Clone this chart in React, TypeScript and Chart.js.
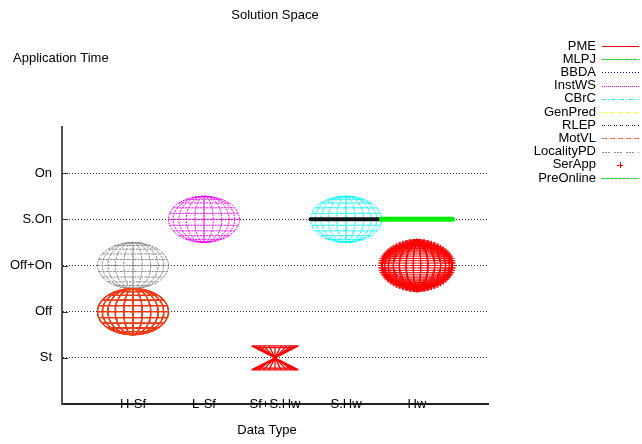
import React, { useEffect, useRef } from 'react';
import { Chart, registerables } from 'chart.js';

Chart.register(...registerables);

// ---- axis data ----
const yTickValues = [1, 2, 3, 4, 5];
const yTickLabels = ['St', 'Off', 'Off+On', 'S.On', 'On'];
const xTickValues = [1, 2, 3, 4, 5];
const xTickLabels = ['H-Sf', 'L-Sf', 'Sf+S.Hw', 'S.Hw', 'Hw'];

// ---- series (legend order) ----
const seriesNames = ['PME', 'MLPJ', 'BBDA', 'InstWS', 'CBrC', 'GenPred', 'RLEP', 'MotVL', 'LocalityPD', 'SerApp', 'PreOnline'];

// ---- shapes: which series, kind, centre and half-extent (data units) ----
const shapeSeries = ['PME', 'PME', 'MLPJ', 'BBDA', 'GenPred', 'MotVL', 'LocalityPD', 'InstWS', 'CBrC', 'RLEP', 'PreOnline', 'SerApp'];
const shapeKind = ['sphere', 'bowtie', 'sphere', 'sphere', 'sphere', 'sphere', 'sphere', 'sphere', 'sphere', 'bar', 'bar', 'sphere'];
const shapeX = [1, 3, 1, 1, 1, 1, 1, 2, 4, 4, 5, 5];
const shapeY = [2, 1, 2, 2, 2, 2, 3, 4, 4, 4, 4, 3];
const shapeRX = [0.5, 0.33, 0.5, 0.5, 0.5, 0.5, 0.5, 0.5, 0.5, 0.5, 0.5, 0.5];
const shapeRY = [0.5, 0.26, 0.5, 0.5, 0.5, 0.5, 0.5, 0.5, 0.5, 0, 0, 0.5];

// ---- styles ----
const seriesColors: Record<string, string> = {
  PME: '#ff0000', MLPJ: '#00e000', BBDA: '#0000ff', InstWS: '#ff00ff', CBrC: '#00ffff',
  GenPred: '#ffff00', RLEP: '#111111', MotVL: '#ff4a10', LocalityPD: '#8c8c8c', SerApp: '#ff0000', PreOnline: '#00ee00',
};
const seriesDash: Record<string, number[]> = {
  PME: [], MLPJ: [3, 1], BBDA: [1, 2], InstWS: [2, 1], CBrC: [5, 1, 2, 1], GenPred: [3, 2, 1, 2],
  RLEP: [1, 1, 1, 3], MotVL: [5, 1], LocalityPD: [3, 1, 2, 1], SerApp: [], PreOnline: [3, 1],
};
const legendDash: Record<string, number[]> = {
  PME: [], MLPJ: [3, 1], BBDA: [1, 2], InstWS: [1, 1], CBrC: [4, 2, 1, 2], GenPred: [3, 2, 1, 2],
  RLEP: [1, 1, 1, 3], MotVL: [2, 1, 2, 3], LocalityPD: [2, 1, 2, 1, 2, 4], SerApp: [], PreOnline: [3, 1],
};
const drawStack = ['LocalityPD', 'GenPred', 'MLPJ', 'BBDA', 'PME', 'MotVL', 'InstWS', 'CBrC', 'RLEP', 'PreOnline', 'SerApp'];

const FONT = '"Liberation Sans", Arial, sans-serif';
const D = Math.PI / 180;

type P = { x: number | null; y: number | null };

function sphereLines(cx: number, cy: number, rx: number, ry: number): P[] {
  const pts: P[] = [];
  [0, 1, 2, 3, 4, 6].forEach((k) => {
    const a = Math.sin(k * 15 * D);
    for (let t = 0; t <= 360; t += 6) {
      pts.push({ x: cx + rx * a * Math.cos(t * D), y: cy + ry * Math.sin(t * D) });
    }
    pts.push({ x: null, y: null });
  });
  for (let k = -5; k <= 5; k++) {
    const v = k * 15 * D;
    const y = cy + ry * Math.sin(v);
    const h = rx * Math.cos(v);
    pts.push({ x: cx - h, y }, { x: cx + h, y }, { x: null, y: null });
  }
  return pts;
}

function spherePoints(cx: number, cy: number, rx: number, ry: number): P[] {
  const pts: P[] = [];
  for (let v = -90; v <= 90; v += 6) {
    for (let u = 0; u <= 180; u += 12) {
      pts.push({ x: cx + rx * Math.cos(v * D) * Math.cos(u * D), y: cy + ry * Math.sin(v * D) });
    }
  }
  return pts;
}

function bowtieLines(cx: number, cy: number, rx: number, ry: number): P[] {
  const pts: P[] = [];
  for (let k = -6; k <= 6; k++) {
    const a = Math.sin(k * 15 * D);
    pts.push({ x: cx - rx * a, y: cy - ry }, { x: cx + rx * a, y: cy + ry }, { x: null, y: null });
  }
  [1, 0.85, -0.85, -1].forEach((s) => {
    const h = rx * Math.abs(s);
    pts.push({ x: cx - h, y: cy + ry * s }, { x: cx + h, y: cy + ry * s }, { x: null, y: null });
  });
  return pts;
}

function barLine(cx: number, cy: number, rx: number): P[] {
  return [{ x: cx - rx, y: cy }, { x: cx + rx, y: cy }, { x: null, y: null }];
}

function buildDatasets() {
  return drawStack.map((name, i) => {
    let data: P[] = [];
    shapeSeries.forEach((s, j) => {
      if (s !== name) return;
      const kind = shapeKind[j];
      if (name === 'SerApp') data = data.concat(spherePoints(shapeX[j], shapeY[j], shapeRX[j], shapeRY[j]));
      else if (kind === 'sphere') data = data.concat(sphereLines(shapeX[j], shapeY[j], shapeRX[j], shapeRY[j]));
      else if (kind === 'bowtie') data = data.concat(bowtieLines(shapeX[j], shapeY[j], shapeRX[j], shapeRY[j]));
      else data = data.concat(barLine(shapeX[j], shapeY[j], shapeRX[j]));
    });
    const color = seriesColors[name];
    const isPoints = name === 'SerApp';
    const isBar = name === 'RLEP' || name === 'PreOnline';
    return {
      label: name,
      data,
      showLine: !isPoints,
      spanGaps: false,
      borderColor: color,
      backgroundColor: color,
      borderWidth: isBar ? (name === 'RLEP' ? 4 : 5) : name === 'PME' ? 1.3 : 1,
      borderDash: isBar ? [] : seriesDash[name],
      borderCapStyle: isBar ? 'round' : 'butt',
      pointRadius: isPoints ? 3.5 : 0,
      pointStyle: 'cross',
      pointBorderWidth: 1,
      pointBorderColor: color,
      order: drawStack.length - i,
    } as any;
  });
}

const overlay = {
  id: 'overlay',
  afterDraw(chart: any) {
    const ctx: CanvasRenderingContext2D = chart.ctx;
    const ya = chart.scales.y;
    const xa = chart.scales.x;
    const area = chart.chartArea;
    ctx.save();
    ctx.fillStyle = '#000';
    ctx.font = `13px ${FONT}`;
    ctx.textBaseline = 'middle';
    ctx.textAlign = 'center';
    ctx.fillText('Solution Space', 275, 15);
    ctx.fillText('Data Type', 267, 430);

    // x tick labels straddling the axis line (as in the original)
    xTickValues.forEach((v, i) => {
      ctx.fillText(xTickLabels[i], xa.getPixelForValue(v), area.bottom + 0.5);
    });

    ctx.textAlign = 'left';
    ctx.fillText('Application Time', 13, 58);

    // inward tick marks on the y axis
    ctx.strokeStyle = '#333';
    ctx.lineWidth = 1;
    ctx.setLineDash([]);
    yTickValues.forEach((v) => {
      const y = Math.round(ya.getPixelForValue(v)) + 0.5;
      ctx.beginPath();
      ctx.moveTo(area.left, y);
      ctx.lineTo(area.left + 6, y);
      ctx.stroke();
    });

    // legend
    ctx.textAlign = 'right';
    seriesNames.forEach((name, i) => {
      const y = 46 + i * 13.2;
      ctx.fillStyle = '#000';
      ctx.fillText(name, 596, y);
      const color = seriesColors[name];
      ctx.strokeStyle = color;
      ctx.lineWidth = 1;
      if (name === 'SerApp') {
        ctx.setLineDash([]);
        ctx.beginPath();
        ctx.moveTo(617, Math.round(y) + 0.5);
        ctx.lineTo(623, Math.round(y) + 0.5);
        ctx.moveTo(620.5, Math.round(y) - 3);
        ctx.lineTo(620.5, Math.round(y) + 3);
        ctx.stroke();
      } else {
        ctx.setLineDash(legendDash[name]);
        ctx.beginPath();
        ctx.moveTo(602, Math.round(y) + 0.5);
        ctx.lineTo(639, Math.round(y) + 0.5);
        ctx.stroke();
      }
    });
    ctx.restore();
  },
};

export default function App() {
  const ref = useRef<HTMLCanvasElement | null>(null);
  useEffect(() => {
    document.body.style.margin = '0';
    document.body.style.background = '#fff';
    if (!ref.current) return;
    Chart.defaults.font.family = FONT;
    Chart.defaults.font.size = 13;
    Chart.defaults.color = '#000';
    const chart = new Chart(ref.current, {
      type: 'scatter',
      data: { datasets: buildDatasets() },
      options: {
        animation: false,
        responsive: false,
        maintainAspectRatio: false,
        layout: { padding: { top: 127, right: 154, left: 0, bottom: 0 } },
        plugins: { legend: { display: false }, tooltip: { enabled: false }, title: { display: false } },
        scales: {
          x: {
            type: 'linear',
            min: 0,
            max: 6,
            position: 'bottom',
            afterFit: (s: any) => { s.height = 40; },
            afterBuildTicks: (s: any) => { s.ticks = xTickValues.map((v) => ({ value: v })); },
            ticks: { display: false },
            grid: { display: false, drawTicks: false },
            border: { display: true, color: '#222', width: 2 },
          },
          y: {
            type: 'linear',
            min: 0,
            max: 6,
            z: 1,
            afterFit: (s: any) => { s.width = 62; },
            afterBuildTicks: (s: any) => { s.ticks = yTickValues.map((v) => ({ value: v })); },
            ticks: {
              callback: (v: any) => yTickLabels[yTickValues.indexOf(Number(v))] ?? '',
              padding: 10,
              color: '#000',
            },
            grid: { display: true, drawTicks: false, color: '#333', lineWidth: 1 },
            border: { display: true, color: '#555', width: 2, dash: [1, 2] },
          },
        },
      },
      plugins: [overlay],
    } as any);
    return () => chart.destroy();
  }, []);
  return <canvas ref={ref} width={642} height={444} style={{ display: 'block' }} />;
}
